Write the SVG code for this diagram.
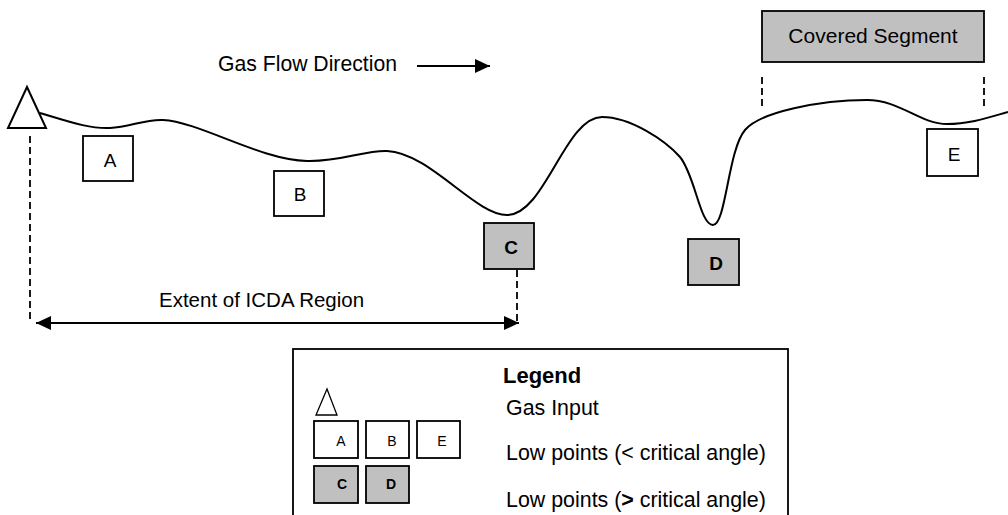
<svg xmlns="http://www.w3.org/2000/svg" width="1008" height="515" viewBox="0 0 1008 515">
<defs>
<style>
text{font-family:"Liberation Sans",Arial,sans-serif;fill:#000}
.box{fill:#fff;stroke:#000;stroke-width:1.8}
.gbox{fill:#c0c0c0;stroke:#000;stroke-width:1.8}
.dash{stroke:#000;stroke-width:1.8;stroke-dasharray:7,4;fill:none}
.lbl{font-size:19px;text-anchor:middle}
.blbl{font-size:19px;font-weight:bold;text-anchor:middle}
.slbl{font-size:14px;text-anchor:middle}
.sblbl{font-size:14px;font-weight:bold;text-anchor:middle}
.leg{font-size:21.4px}
</style>
<marker id="ah" markerWidth="16" markerHeight="14" refX="15" refY="7" orient="auto-start-reverse" markerUnits="userSpaceOnUse">
<path d="M0,0 L15,7 L0,14 Z" fill="#000"/>
</marker>
</defs>
<rect width="1008" height="515" fill="#fff"/>

<g id="pipeline">
<path d="M40,113 C70,122 90,129 110,128 C130,127 145,119 163,120 C200,122 260,160 307,161 C340,162 365,150 387,151 C430,153 475,215 507,215 C545,215 565,117 602,117 C630,117 665,140 680,157 C695,175 700,225 713,225 C726,225 728,150 745,130 C760,112 820,100 867,100 C900,100 920,124 947,124 C970,124 990,117 1008,112" fill="none" stroke="#000" stroke-width="2"/>
</g>

<g id="gas-input">
<polygon points="27,87 8,128 46,128" fill="#fff" stroke="#000" stroke-width="2"/>
</g>

<g id="node-A"><rect class="box" x="83" y="136" width="50" height="45"/><text class="lbl" x="110" y="167">A</text></g>
<g id="node-B"><rect class="box" x="274" y="171" width="50" height="45"/><text class="lbl" x="300" y="201">B</text></g>
<g id="node-C"><rect class="gbox" x="484" y="223" width="50" height="46"/><text class="blbl" x="511" y="254">C</text></g>
<g id="node-D"><rect class="gbox" x="688" y="239" width="51" height="46"/><text class="blbl" x="716" y="270">D</text></g>
<g id="node-E"><rect class="box" x="927" y="129" width="51" height="47"/><text class="lbl" x="954" y="161">E</text></g>

<g id="covered-segment">
<rect class="gbox" x="762" y="11" width="222" height="51"/>
<text x="873" y="43" font-size="21" text-anchor="middle">Covered Segment</text>
</g>

<g id="flow-direction">
<text x="218" y="71" font-size="21.2">Gas Flow Direction</text>
</g>

<g id="icda-extent">
<text x="159" y="307" font-size="20.5">Extent of ICDA Region</text>
</g>

<g id="connectors">
<line x1="417" y1="66" x2="490" y2="66" stroke="#000" stroke-width="2" marker-end="url(#ah)"/>
<line class="dash" x1="30" y1="136" x2="30" y2="322"/>
<line class="dash" x1="517" y1="270" x2="517" y2="322"/>
<line class="dash" x1="762" y1="77" x2="762" y2="108"/>
<line class="dash" x1="984" y1="77" x2="984" y2="108"/>
<line x1="36" y1="323" x2="519" y2="323" stroke="#000" stroke-width="2" marker-start="url(#ah)" marker-end="url(#ah)"/>
</g>

<g id="legend">
<rect x="293" y="349" width="495" height="180" fill="#fff" stroke="#000" stroke-width="1.8"/>
<text x="503" y="383" font-size="22" font-weight="bold">Legend</text>
<polygon points="327,389 316,415 337,415" fill="#fff" stroke="#000" stroke-width="1.3"/>
<rect class="box" x="314" y="421" width="44" height="37" stroke-width="1.5"/><text class="slbl" x="341" y="446">A</text>
<rect class="box" x="366" y="421" width="43" height="37" stroke-width="1.5"/><text class="slbl" x="392" y="446">B</text>
<rect class="box" x="417" y="421" width="43" height="37" stroke-width="1.5"/><text class="slbl" x="442" y="446">E</text>
<rect class="gbox" x="314" y="466" width="44" height="37" stroke-width="1.5"/><text class="sblbl" x="342" y="489">C</text>
<rect class="gbox" x="366" y="466" width="43" height="37" stroke-width="1.5"/><text class="sblbl" x="391" y="489">D</text>
<text class="leg" x="506" y="415">Gas Input</text>
<text class="leg" x="506" y="460">Low points (&lt; critical angle)</text>
<text class="leg" x="506" y="507">Low points (<tspan font-weight="bold">&gt;</tspan> critical angle)</text>
</g>
</svg>
